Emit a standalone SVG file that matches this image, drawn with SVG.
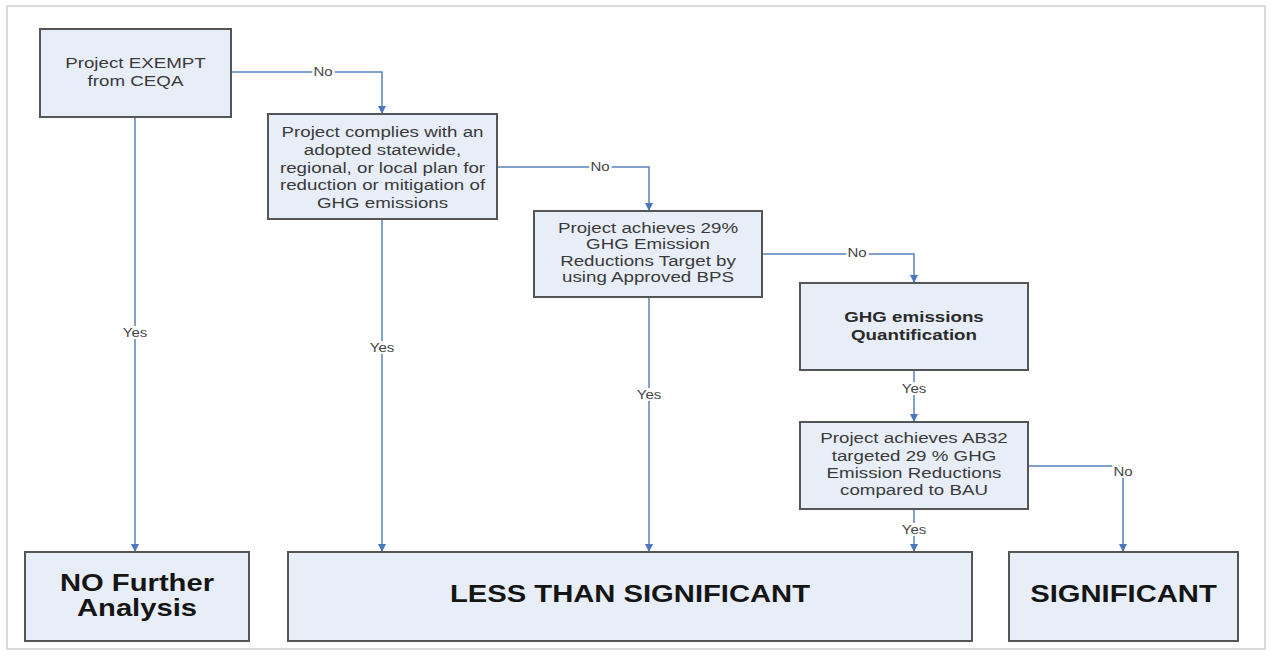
<svg xmlns="http://www.w3.org/2000/svg" width="1272" height="658" viewBox="0 0 1272 658">
<defs>
<marker id="arr" viewBox="0 0 10 10" refX="10" refY="5" markerWidth="8" markerHeight="8" markerUnits="userSpaceOnUse" orient="auto">
<path d="M0,0 L10,5 L0,10 z" fill="#4A78BC"/>
</marker>
<style>
.box{fill:#E8EEF8;stroke:#555;stroke-width:2}
.t{font-family:"Liberation Sans",Arial,sans-serif;font-size:15px;fill:#3a3a3a;text-anchor:middle}
.tb{font-family:"Liberation Sans",Arial,sans-serif;font-size:15px;font-weight:bold;fill:#2a2a2a;text-anchor:middle}
.big{font-family:"Liberation Sans",Arial,sans-serif;font-size:23px;font-weight:bold;fill:#151515;text-anchor:middle}
.c{fill:none;stroke:#5A80BF;stroke-width:1.5}
.lbl{font-family:"Liberation Sans",Arial,sans-serif;font-size:12px;fill:#444;text-anchor:middle;stroke:#fff;stroke-width:4;paint-order:stroke}
</style>
</defs>
<rect x="0" y="0" width="1272" height="658" fill="#fff"/>
<rect x="7" y="6" width="1258" height="643" fill="#fff" stroke="#cfcfcf" stroke-width="1.5"/>

<g id="connectors">
<path class="c" d="M231,72 H382 V114" marker-end="url(#arr)"/>
<path class="c" d="M135,117 V552" marker-end="url(#arr)"/>
<path class="c" d="M497,167 H649 V211" marker-end="url(#arr)"/>
<path class="c" d="M382,219 V552" marker-end="url(#arr)"/>
<path class="c" d="M763,254 H914 V283" marker-end="url(#arr)"/>
<path class="c" d="M649,297 V552" marker-end="url(#arr)"/>
<path class="c" d="M914,370 V422" marker-end="url(#arr)"/>
<path class="c" d="M914,509 V552" marker-end="url(#arr)"/>
<path class="c" d="M1028,466 H1123 V552" marker-end="url(#arr)"/>
<g transform="translate(323,76) scale(1.25,1)"><text class="lbl" x="0" y="0">No</text></g>
<g transform="translate(135,337) scale(1.25,1)"><text class="lbl" x="0" y="0">Yes</text></g>
<g transform="translate(600,171) scale(1.25,1)"><text class="lbl" x="0" y="0">No</text></g>
<g transform="translate(382,352) scale(1.25,1)"><text class="lbl" x="0" y="0">Yes</text></g>
<g transform="translate(857,257) scale(1.25,1)"><text class="lbl" x="0" y="0">No</text></g>
<g transform="translate(649,399) scale(1.25,1)"><text class="lbl" x="0" y="0">Yes</text></g>
<g transform="translate(914,393) scale(1.25,1)"><text class="lbl" x="0" y="0">Yes</text></g>
<g transform="translate(914,534) scale(1.25,1)"><text class="lbl" x="0" y="0">Yes</text></g>
<g transform="translate(1123,476) scale(1.25,1)"><text class="lbl" x="0" y="0">No</text></g>
</g>

<g id="exempt">
<rect class="box" x="40" y="29" width="191" height="88"/>
<g transform="translate(135.5,0) scale(1.25,1)">
<text class="t" x="0" y="68">Project EXEMPT</text>
<text class="t" x="0" y="86">from CEQA</text>
</g>
</g>

<g id="complies">
<rect class="box" x="268" y="114" width="229" height="105"/>
<g transform="translate(382.5,0) scale(1.25,1)">
<text class="t" x="0" y="137">Project complies with an</text>
<text class="t" x="0" y="155">adopted statewide,</text>
<text class="t" x="0" y="173">regional, or local plan for</text>
<text class="t" x="0" y="190">reduction or mitigation of</text>
<text class="t" x="0" y="208">GHG emissions</text>
</g>
</g>

<g id="bps">
<rect class="box" x="534" y="211" width="228" height="86"/>
<g transform="translate(648,0) scale(1.25,1)">
<text class="t" x="0" y="233">Project achieves 29%</text>
<text class="t" x="0" y="249">GHG Emission</text>
<text class="t" x="0" y="266">Reductions Target by</text>
<text class="t" x="0" y="282">using Approved BPS</text>
</g>
</g>

<g id="quant">
<rect class="box" x="800" y="283" width="228" height="87"/>
<g transform="translate(914,0) scale(1.25,1)">
<text class="tb" x="0" y="322">GHG emissions</text>
<text class="tb" x="0" y="340">Quantification</text>
</g>
</g>

<g id="ab32">
<rect class="box" x="800" y="422" width="228" height="87"/>
<g transform="translate(914,0) scale(1.25,1)">
<text class="t" x="0" y="443">Project achieves AB32</text>
<text class="t" x="0" y="461">targeted 29 % GHG</text>
<text class="t" x="0" y="478">Emission Reductions</text>
<text class="t" x="0" y="495">compared to BAU</text>
</g>
</g>

<g id="nofurther">
<rect class="box" x="25" y="552" width="224" height="89"/>
<g transform="translate(137,0) scale(1.27,1)">
<text class="big" x="0" y="591">NO Further</text>
<text class="big" x="0" y="616">Analysis</text>
</g>
</g>

<g id="lessthan">
<rect class="box" x="288" y="552" width="684" height="89"/>
<g transform="translate(630,0) scale(1.27,1)">
<text class="big" x="0" y="602">LESS THAN SIGNIFICANT</text>
</g>
</g>

<g id="significant">
<rect class="box" x="1009" y="552" width="229" height="89"/>
<g transform="translate(1123.5,0) scale(1.27,1)">
<text class="big" x="0" y="602">SIGNIFICANT</text>
</g>
</g>
</svg>
